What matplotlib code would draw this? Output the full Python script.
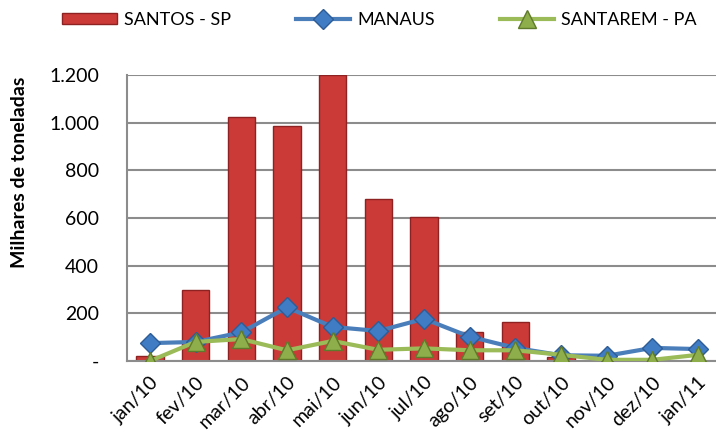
import matplotlib
matplotlib.use("Agg")
import matplotlib.pyplot as plt
import numpy as np

meses = ["jan/10", "fev/10", "mar/10", "abr/10", "mai/10", "jun/10", "jul/10",
         "ago/10", "set/10", "out/10", "nov/10", "dez/10", "jan/11"]
santos = [20, 297, 1025, 986, 1198, 681, 605, 123, 165, 15, 0, 0, 0]
manaus = [75, 80, 120, 225, 143, 126, 177, 102, 55, 24, 22, 55, 50]
santarem = [0, 80, 92, 45, 84, 47, 53, 45, 45, 26, 5, 5, 26]
y_ticks = [0, 200, 400, 600, 800, 1000, 1200]
y_labels = ["-", "200", "400", "600", "800", "1.000", "1.200"]

plt.rcParams["font.family"] = ["Lato", "DejaVu Sans"]

fig = plt.figure(figsize=(7.16, 4.43), dpi=100)
ax = fig.add_axes([127 / 716, 1 - 361 / 443, 594 / 716, 286 / 443])

x = np.arange(len(meses))
b = ax.bar(x, santos, width=0.6, color="#CC3A38", edgecolor="#8E2222",
           linewidth=1.0, label="SANTOS - SP", zorder=2)
l1, = ax.plot(x, manaus, color="#4A7EBB", lw=3, marker="D", ms=10,
              mfc="#3F7CC4", mec="#2D5C96", mew=1, label="MANAUS", zorder=3)
l2, = ax.plot(x, santarem, color="#9BBB59", lw=3, marker="^", ms=13,
              mfc="#8DAE4A", mec="#5F7A2A", mew=1, label="SANTAREM - PA", zorder=4)

ax.set_xlim(-0.5, len(meses) - 0.5)
ax.set_ylim(0, 1200)
ax.set_yticks(y_ticks)
ax.set_yticklabels(y_labels, fontsize=14)
ax.set_xticks(x)
ax.set_xticklabels(meses, fontsize=14, rotation=45, ha="right",
                   rotation_mode="anchor")
ax.tick_params(axis="x", length=0, pad=9)
ax.tick_params(axis="y", length=0, pad=20)
ax.grid(axis="y", color="#8C8C8C", lw=1.5, zorder=0)
ax.set_axisbelow(True)
for s in ["top", "right"]:
    ax.spines[s].set_visible(False)
for s in ["left", "bottom"]:
    ax.spines[s].set_color("#8C8C8C")
    ax.spines[s].set_linewidth(1.5)

ax.set_ylabel("Milhares de toneladas", fontsize=14, fontweight="bold")
ax.yaxis.set_label_coords(-0.167, 0.66)

fig.legend([b, l1, l2], ["SANTOS - SP", "MANAUS", "SANTAREM - PA"],
           loc="upper center", bbox_to_anchor=(0.53, 1.01), ncol=3,
           frameon=False, fontsize=13, columnspacing=3.6, handlelength=3.0,
           handleheight=0.5, handletextpad=0.4)

fig.savefig("out.png", dpi=100)
